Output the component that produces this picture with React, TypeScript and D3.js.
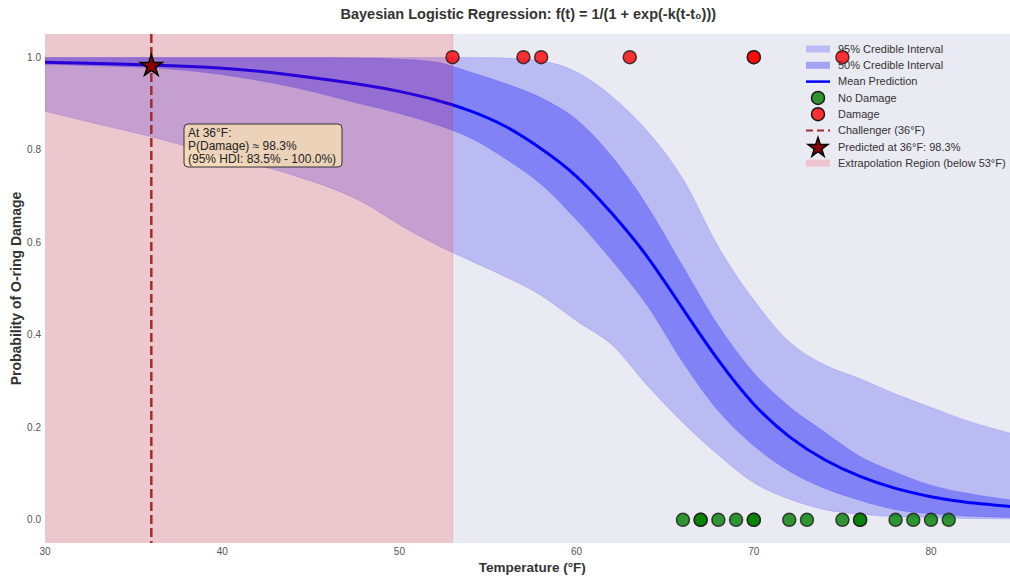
import { useEffect, useRef } from "react";
import * as d3 from "d3";

// posterior summary (temperature in °F)
const TEMPS = [30, 33, 36, 40, 44, 48, 50, 52, 54, 56, 58, 60, 62, 64, 66, 68, 70, 72, 74, 76, 78, 80, 82, 85];
const MEAN  = [0.989, 0.986, 0.983, 0.976, 0.961, 0.940, 0.926, 0.908, 0.884, 0.850, 0.802, 0.742, 0.662, 0.568, 0.456, 0.345, 0.250, 0.180, 0.130, 0.094, 0.068, 0.050, 0.038, 0.027];
const HI95  = [0.999, 0.999, 0.999, 0.999, 0.999, 0.999, 0.999, 0.999, 0.999, 0.998, 0.992, 0.968, 0.915, 0.840, 0.737, 0.590, 0.475, 0.385, 0.335, 0.305, 0.272, 0.243, 0.215, 0.182];
const LO95  = [0.883, 0.855, 0.828, 0.785, 0.745, 0.685, 0.638, 0.596, 0.560, 0.525, 0.485, 0.430, 0.378, 0.290, 0.210, 0.140, 0.080, 0.045, 0.022, 0.012, 0.007, 0.005, 0.003, 0.002];
const HI50  = [0.999, 0.999, 0.999, 0.999, 0.999, 0.998, 0.996, 0.990, 0.968, 0.943, 0.912, 0.865, 0.785, 0.678, 0.548, 0.420, 0.318, 0.245, 0.190, 0.137, 0.103, 0.075, 0.058, 0.041];
const LO50  = [0.984, 0.981, 0.977, 0.962, 0.935, 0.897, 0.878, 0.855, 0.825, 0.780, 0.725, 0.648, 0.560, 0.462, 0.340, 0.235, 0.160, 0.105, 0.068, 0.042, 0.022, 0.013, 0.008, 0.005];

// Challenger flights
const NO_DAMAGE = [66, 67, 67, 68, 69, 70, 70, 72, 73, 75, 76, 76, 78, 79, 80, 81];
const DAMAGE    = [53, 57, 58, 63, 70, 70, 75];

const CHALLENGER_T = 36;
const CHALLENGER_P = 0.983;
const EXTRAP_LIMIT = 53;

const X_TICKS = [30, 40, 50, 60, 70, 80];
const Y_TICKS = [0, 0.2, 0.4, 0.6, 0.8, 1.0];

const LEGEND = [
  { kind: "patch", label: "95% Credible Interval", color: "#bbbbf5" },
  { kind: "patch", label: "50% Credible Interval", color: "#a3a3f6" },
  { kind: "line", label: "Mean Prediction", color: "blue" },
  { kind: "dot", label: "No Damage", color: "#2f9531" },
  { kind: "dot", label: "Damage", color: "#fb2f30" },
  { kind: "dash", label: "Challenger (36°F)", color: "#a52a2a" },
  { kind: "star", label: "Predicted at 36°F: 98.3%", color: "#8b0000" },
  { kind: "patch", label: "Extrapolation Region (below 53°F)", color: "#efc6ce" },
];

const FONT = "'Liberation Sans', Arial, 'DejaVu Sans', sans-serif";

export default function App() {
  const svgRef = useRef<SVGSVGElement>(null);

  useEffect(() => {
    if (!svgRef.current) return;
    const W = 1010, H = 576;
    const mg = { l: 45, t: 34, r: 1019.6, b: 543 };

    const svg = d3.select(svgRef.current).attr("width", W).attr("height", H);
    svg.selectAll("*").remove();

    const x = d3.scaleLinear().domain([30, 85]).range([mg.l, mg.r]);
    const y = d3.scaleLinear().domain([-0.05, 1.05]).range([mg.b, mg.t]);

    svg.append("defs").append("clipPath").attr("id", "plot-clip")
      .append("rect").attr("x", mg.l).attr("y", mg.t).attr("width", mg.r - mg.l).attr("height", mg.b - mg.t);

    svg.append("rect").attr("x", mg.l).attr("y", mg.t).attr("width", mg.r - mg.l).attr("height", mg.b - mg.t)
      .attr("fill", "#eaeaf2");

    const plot = svg.append("g").attr("clip-path", "url(#plot-clip)");

    const band = (lo: number[], hi: number[]) =>
      d3.area<number>().x((_, i) => x(TEMPS[i])).y0((_, i) => y(lo[i])).y1((_, i) => y(hi[i]))
        .curve(d3.curveMonotoneX)(TEMPS);

    plot.append("path").attr("d", band(LO95, HI95)).attr("fill", "blue").attr("fill-opacity", 0.2)
      .attr("stroke", "blue").attr("stroke-opacity", 0.12).attr("stroke-width", 1);
    plot.append("path").attr("d", band(LO50, HI50)).attr("fill", "blue").attr("fill-opacity", 0.3)
      .attr("stroke", "blue").attr("stroke-opacity", 0.12).attr("stroke-width", 1);

    const meanLine = d3.line<number>().x((_, i) => x(TEMPS[i])).y(d => y(d)).curve(d3.curveNatural);
    plot.append("path").attr("d", meanLine(MEAN)).attr("fill", "none").attr("stroke", "blue").attr("stroke-width", 3);

    // extrapolation region on top
    plot.append("rect").attr("x", x(30)).attr("y", mg.t).attr("width", x(EXTRAP_LIMIT) - x(30)).attr("height", mg.b - mg.t)
      .attr("fill", "red").attr("fill-opacity", 0.15);
    plot.append("line").attr("x1", x(EXTRAP_LIMIT)).attr("x2", x(EXTRAP_LIMIT)).attr("y1", mg.t).attr("y2", mg.b)
      .attr("stroke", "red").attr("stroke-opacity", 0.15).attr("stroke-width", 1);

    plot.append("line").attr("x1", x(CHALLENGER_T)).attr("x2", x(CHALLENGER_T)).attr("y1", mg.t).attr("y2", mg.b)
      .attr("stroke", "#a52a2a").attr("stroke-width", 2.5).attr("stroke-dasharray", "9,4");

    const dots = (temps: number[], val: number, color: string) =>
      temps.forEach(t => {
        plot.append("circle").attr("cx", x(t)).attr("cy", y(val)).attr("r", 6.5)
          .attr("fill", color).attr("fill-opacity", 0.8).attr("stroke", "#1a1a1a").attr("stroke-opacity", 0.8).attr("stroke-width", 1.5);
      });
    dots(NO_DAMAGE, 0, "green");

    // ticks
    X_TICKS.forEach(v => {
      svg.append("text").attr("x", x(v)).attr("y", 555).attr("text-anchor", "middle")
        .attr("font-size", 10).attr("fill", "#555").attr("font-family", FONT).text(v);
    });
    Y_TICKS.forEach(v => {
      svg.append("text").attr("x", 41).attr("y", y(v)).attr("dy", "0.35em").attr("text-anchor", "end")
        .attr("font-size", 10).attr("fill", "#555").attr("font-family", FONT).text(v.toFixed(1));
    });

    // titles
    const cx = (mg.l + mg.r) / 2;
    svg.append("text").attr("x", cx - 4).attr("y", 19).attr("text-anchor", "middle").attr("font-size", 14.5)
      .attr("font-weight", "bold").attr("fill", "#333").attr("font-family", FONT)
      .text("Bayesian Logistic Regression: f(t) = 1/(1 + exp(-k(t-t₀)))");
    svg.append("text").attr("x", cx).attr("y", 572).attr("text-anchor", "middle").attr("font-size", 13.5)
      .attr("font-weight", "bold").attr("fill", "#333").attr("font-family", FONT).text("Temperature (°F)");
    svg.append("text").attr("transform", `translate(21,${(mg.t + mg.b) / 2}) rotate(-90)`).attr("text-anchor", "middle")
      .attr("font-size", 14).attr("font-weight", "bold").attr("fill", "#333").attr("font-family", FONT)
      .text("Probability of O-ring Damage");

    // annotation
    const ann = svg.append("g").attr("transform", "translate(184,124)");
    ann.append("rect").attr("width", 158).attr("height", 43).attr("rx", 4)
      .attr("fill", "wheat").attr("fill-opacity", 0.8).attr("stroke", "#333").attr("stroke-width", 1);
    ["At 36°F:", "P(Damage) ≈ 98.3%", "(95% HDI: 83.5% - 100.0%)"].forEach((s, i) => {
      ann.append("text").attr("x", 4).attr("y", 13 + i * 13).attr("font-size", 12).attr("fill", "#222")
        .attr("font-family", FONT).text(s);
    });

    // legend
    const lg = svg.append("g");
    LEGEND.forEach((d, i) => {
      const ry = 49 + i * 16.3;
      if (d.kind === "patch") {
        lg.append("rect").attr("x", 806).attr("y", ry - 3.5).attr("width", 24).attr("height", 7).attr("fill", d.color);
      } else if (d.kind === "line") {
        lg.append("line").attr("x1", 806).attr("x2", 830).attr("y1", ry).attr("y2", ry).attr("stroke", d.color).attr("stroke-width", 2.5);
      } else if (d.kind === "dash") {
        lg.append("line").attr("x1", 806).attr("x2", 830).attr("y1", ry).attr("y2", ry).attr("stroke", d.color)
          .attr("stroke-width", 2).attr("stroke-dasharray", "7,4");
      } else if (d.kind === "dot") {
        lg.append("circle").attr("cx", 818).attr("cy", ry).attr("r", 6.5).attr("fill", d.color)
          .attr("stroke", "#1a1a1a").attr("stroke-width", 1.5);
      } else {
        lg.append("path").attr("d", d3.symbol(d3.symbolStar, 120)()).attr("transform", `translate(818,${ry + 1})`)
          .attr("fill", d.color).attr("stroke", "black").attr("stroke-width", 1.5);
      }
      lg.append("text").attr("x", 838).attr("y", ry).attr("dy", "0.35em").attr("font-size", 11).attr("fill", "#333")
        .attr("font-family", FONT).text(d.label);
    });

    // damage points sit above the legend
    const top = svg.append("g").attr("clip-path", "url(#plot-clip)");
    DAMAGE.forEach(t => {
      top.append("circle").attr("cx", x(t)).attr("cy", y(1)).attr("r", 6.5)
        .attr("fill", "red").attr("fill-opacity", 0.8).attr("stroke", "#1a1a1a").attr("stroke-opacity", 0.8).attr("stroke-width", 1.5);
    });

    top.append("path").attr("d", d3.symbol(d3.symbolStar, 150)()).attr("transform", `translate(${x(CHALLENGER_T)},${y(CHALLENGER_P) + 1})`)
      .attr("fill", "#8b0000").attr("stroke", "black").attr("stroke-width", 1.5);
  }, []);

  return (
    <div style={{ position: "absolute", left: 0, top: 0, width: 1010, height: 576, background: "white" }}>
      <svg ref={svgRef} style={{ display: "block" }} />
    </div>
  );
}
